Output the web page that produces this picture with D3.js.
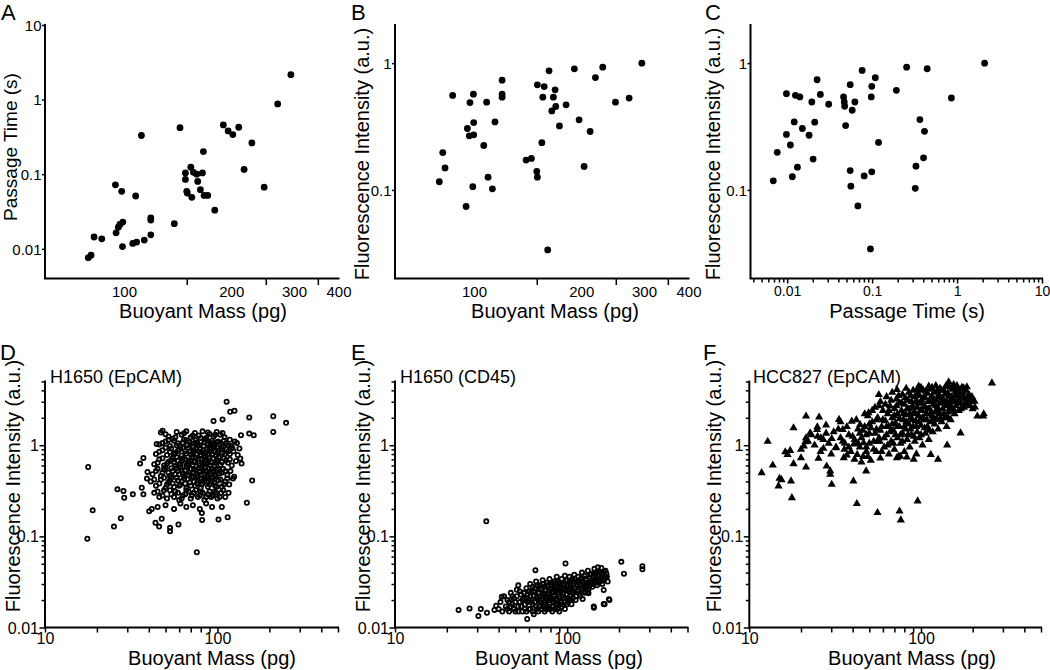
<!DOCTYPE html>
<html><head><meta charset="utf-8">
<script src="https://cdn.jsdelivr.net/npm/d3@7"></script>
<style>
body{margin:0;background:#fff}
svg{display:block}
text{font-family:"Liberation Sans",Arial,sans-serif;fill:#000}
</style>
</head><body>
<svg id="c" width="1050" height="670"></svg>
<script>
// ---------------- DATA ----------------
// Panel A: buoyant mass (pg) vs passage time (s)
const massA = [79.4,80.8,82.4,86.6,94.6,98.5,95.0,96.4,97.4,99.2,99.0,105.8,108.5,107.8,111.9,114.0,118.9,118.9,118.9,138.4,143.6,148.7,148.7,150,150.5,154,155,156.6,160,161,163.8,166,167,167.8,171.8,179.8,190,196,202,209.9,217.3,228.5,247.4,270,294];
const timeA = [0.0076,0.0082,0.0144,0.0136,0.072,0.059,0.0164,0.0195,0.0212,0.0228,0.0107,0.0118,0.0123,0.051,0.33,0.0131,0.0154,0.026,0.0243,0.0217,0.42,0.104,0.085,0.059,0.056,0.124,0.049,0.106,0.1,0.080,0.062,0.104,0.201,0.052,0.052,0.033,0.458,0.38,0.34,0.426,0.116,0.263,0.067,0.875,2.16];
// Panel B: buoyant mass (pg) vs fluorescence (a.u.)
const massB = [79.9,81.7,82.9,87.1,95.0,95.8,97.4,97.0,99.6,99.8,99.8,99.2,106.5,108.5,109.5,112.6,114.5,119.9,119.9,119.9,140,144.9,150,150.6,150.6,155,156,157.4,161,162.4,165.3,167,168.9,169.6,173.7,181.3,191.3,197.2,203.7,211.8,219.2,229.8,249.5,272.5,295.8];
const fluorB = [0.116,0.197,0.149,0.556,0.074,0.305,0.489,0.267,0.569,0.34,0.272,0.106,0.224,0.492,0.126,0.102,0.344,0.734,0.569,0.539,0.172,0.177,0.14,0.126,0.675,0.236,0.539,0.654,0.0336,0.87,0.42,0.539,0.616,0.455,0.32,0.469,0.902,0.357,0.153,0.289,0.77,0.93,0.492,0.53,1.0];
// Panel C: passage time (s) vs fluorescence (a.u.)
const timeC = [0.00686,0.00764,0.0098,0.0098,0.0109,0.0115,0.0121,0.0125,0.0132,0.0141,0.0151,0.0181,0.0195,0.0202,0.0211,0.0225,0.0246,0.0308,0.0461,0.047,0.0475,0.0488,0.0552,0.0552,0.0562,0.0583,0.0627,0.068,0.0763,0.0806,0.0956,0.0977,0.099,0.099,0.109,0.119,0.193,0.255,0.322,0.328,0.365,0.403,0.414,0.445,0.858,2.11];
const fluorC = [0.118,0.198,0.574,0.274,0.226,0.127,0.344,0.557,0.151,0.541,0.305,0.27,0.494,0.175,0.342,0.74,0.567,0.474,0.541,0.494,0.457,0.322,0.676,0.142,0.107,0.425,0.494,0.0748,0.876,0.129,0.0342,0.541,0.656,0.139,0.767,0.237,0.61,0.93,0.103,0.154,0.359,0.179,0.29,0.903,0.531,1.0];

// Panel D: H1650 (EpCAM) [mass pg, fluorescence a.u.]
const h1650EpcamPts = [
[17.8,0.577],[18.9,0.193],[17.6,0.094],[25.1,0.128],[26.3,0.328],[27.5,0.158],[28.5,0.314],[28.8,0.265],[32.3,0.289],[35.6,0.628],[37.2,0.726],[36.4,0.342],[37.2,0.289],[39.3,0.509],[39,0.43],[40.2,0.189],[41.6,0.2],[43.7,0.141],[44.4,1.03],[45.9,0.128],[47.5,0.156],[48.1,1.44],[53.1,0.124],[53.1,0.114],[59.4,0.135],[75.9,0.067],[81.2,0.18],[81.5,0.151],[101.4,0.153],[106,0.21],[114.6,0.162],[113,3.0],[118.5,2.33],[125.6,2.39],[94.9,1.84],[107,1.92],[129.6,1.06],[136.9,1.29],[134.1,0.919],[152.9,2.02],[152.9,1.34],[148,0.234],[159,0.41],[162.3,1.29],[210.6,2.08],[210.6,1.40],[250,1.76],[135.6,0.713],[138,0.628],
[47,1.38],[52,1.25],[55,1.18],[58,1.4],[62,1.3],[66,1.42],[70,1.22],[74,1.36],[78,1.28],[82,1.42],[86,1.2],[90,1.33],[95,1.25],[99,1.4],[104,1.3],[110,1.22],[118,1.15],
[46,1.02],[50,1.1],[53,0.98],[56,1.12],[59,1.05],[61,0.96],[64,1.15],[67,1.0],[69,1.08],[72,0.97],[75,1.14],[77,1.02],[80,1.1],[83,0.98],[85,1.16],[88,1.04],[91,0.99],[93,1.12],[97,1.03],[101,1.1],[106,0.97],[112,1.05],[120,0.98],[126,1.1],
[44,0.8],[48,0.88],[51,0.78],[54,0.92],[57,0.82],[60,0.9],[62,0.77],[65,0.86],[68,0.93],[70,0.79],[73,0.88],[76,0.8],[79,0.92],[81,0.84],[84,0.77],[87,0.9],[89,0.8],[92,0.86],[95,0.93],[98,0.78],[102,0.88],[107,0.82],[113,0.9],[118,0.8],[124,0.86],[131,0.78],
[43,0.62],[46,0.7],[49,0.6],[52,0.66],[55,0.73],[57,0.6],[59,0.68],[61,0.63],[63,0.72],[66,0.6],[68,0.67],[71,0.74],[72,0.61],[74,0.66],[77,0.7],[79,0.6],[82,0.65],[84,0.73],[86,0.62],[89,0.68],[91,0.6],[94,0.71],[97,0.64],[100,0.69],[104,0.61],[109,0.72],[115,0.64],[121,0.6],[128,0.67],
[42,0.48],[45,0.55],[48,0.5],[50,0.57],[53,0.46],[55,0.52],[58,0.56],[60,0.48],[62,0.53],[64,0.46],[67,0.57],[69,0.5],[71,0.46],[73,0.54],[76,0.49],[78,0.56],[80,0.47],[83,0.52],[85,0.57],[87,0.46],[90,0.51],[93,0.55],[96,0.47],[99,0.53],[103,0.49],[108,0.55],[114,0.47],[119,0.52],[125,0.45],
[41,0.4],[44,0.36],[47,0.42],[50,0.34],[52,0.39],[54,0.44],[56,0.35],[59,0.41],[61,0.37],[64,0.43],[66,0.34],[69,0.39],[72,0.44],[74,0.36],[77,0.41],[80,0.34],[82,0.38],[85,0.43],[88,0.35],[91,0.4],[94,0.44],[97,0.36],[101,0.41],[106,0.35],[111,0.4],[117,0.37],[123,0.43],
[43,0.3],[46,0.27],[49,0.32],[51,0.26],[54,0.29],[57,0.31],[60,0.25],[63,0.28],[66,0.32],[70,0.26],[73,0.3],[77,0.27],[80,0.31],[84,0.25],[88,0.29],[92,0.27],[96,0.31],[100,0.26],[105,0.3],[111,0.27],[116,0.3],
[45,0.21],[50,0.22],[56,0.2],[61,0.23],[66,0.21],[72,0.22],[79,0.2],[86,0.23],[93,0.21],
[50,1.32],[57,1.22],[64,1.35],[72,1.28],[80,1.2],[88,1.38],[97,1.3],[107,1.36],
[48,1.06],[52,1.14],[58,1.0],[63,1.07],[66,1.13],[71,1.04],[76,1.08],[79,0.99],[84,1.07],[87,1.12],[92,1.06],[96,0.98],[99,1.08],[103,1.02],[109,1.12],[115,1.0],
[46,0.85],[50,0.94],[53,0.84],[56,0.79],[59,0.87],[63,0.94],[66,0.81],[69,0.86],[72,0.83],[75,0.91],[78,0.85],[80,0.79],[83,0.88],[86,0.83],[90,0.92],[93,0.8],[96,0.87],[100,0.82],[105,0.91],[110,0.79],[116,0.86],[122,0.93],
[45,0.64],[48,0.72],[51,0.63],[54,0.69],[56,0.64],[58,0.74],[60,0.61],[62,0.67],[65,0.7],[67,0.63],[70,0.69],[73,0.65],[75,0.73],[78,0.63],[81,0.7],[83,0.61],[85,0.68],[88,0.64],[90,0.72],[93,0.65],[96,0.6],[99,0.66],[102,0.73],[106,0.65],[112,0.68],[118,0.7],
[44,0.52],[47,0.46],[49,0.54],[52,0.5],[54,0.56],[57,0.48],[59,0.52],[61,0.57],[63,0.49],[65,0.53],[68,0.47],[70,0.55],[72,0.5],[75,0.53],[77,0.46],[79,0.51],[81,0.55],[84,0.48],[86,0.52],[89,0.56],[92,0.49],[95,0.52],[98,0.46],[101,0.55],[106,0.5],[111,0.52],
[43,0.42],[46,0.38],[49,0.44],[51,0.37],[53,0.41],[55,0.38],[58,0.44],[60,0.36],[62,0.4],[65,0.38],[67,0.42],[70,0.36],[73,0.4],[76,0.38],[79,0.43],[81,0.37],[84,0.4],[87,0.44],[90,0.37],[93,0.41],[96,0.39],[99,0.35],[104,0.42],[109,0.37],[114,0.43],
[45,0.31],[48,0.28],[53,0.32],[56,0.27],[59,0.3],[62,0.26],[65,0.29],[68,0.31],[71,0.28],[75,0.32],[79,0.28],[82,0.3],[86,0.27],[90,0.31],[94,0.28],[98,0.3],[103,0.27],[108,0.32]
];

// Panel E: H1650 (CD45) [mass pg, fluorescence a.u.]
const h1650Cd45Pts = [
[23.4,0.0156],[27.1,0.0162],[30.5,0.0134],[31.5,0.016],[34.2,0.0145],[33.9,0.146],[37.8,0.0156],[38.7,0.0173],[41.7,0.0218],[65.4,0.0426],[97.8,0.0503],[150.8,0.0457],[206.3,0.0525],[213.8,0.039],[273.5,0.047],[273.5,0.0436],[174.9,0.0204],[163,0.0181],[142.7,0.017],[131.6,0.0244],[163,0.0258],[58.6,0.0124],
[40,0.016],[41,0.019],[42,0.015],[43,0.022],[44,0.017],[45,0.02],[46,0.015],[47,0.024],[48,0.018],
[49,0.021],[50,0.015],[51,0.026],[52,0.017],[52,0.029],[53,0.019],[54,0.023],[55,0.015],[56,0.021],
[57,0.018],[58,0.027],[58,0.015],[59,0.023],[60,0.02],[61,0.03],[61,0.016],[62,0.025],[63,0.018],[64,0.022],[64,0.014],
[65,0.027],[66,0.017],[66,0.032],[67,0.021],[68,0.024],[68,0.015],[69,0.029],[70,0.019],[71,0.026],[71,0.016],[72,0.022],[72,0.033],
[73,0.018],[74,0.028],[74,0.015],[75,0.023],[76,0.031],[77,0.02],[77,0.016],[78,0.026],[79,0.034],[79,0.018],[80,0.022],[81,0.029],[82,0.015],[82,0.024],
[83,0.019],[84,0.032],[85,0.026],[85,0.016],[86,0.021],[87,0.036],[87,0.028],[88,0.018],[89,0.024],[90,0.031],[90,0.015],[91,0.021],[92,0.027],
[93,0.034],[94,0.018],[95,0.024],[96,0.03],[97,0.016],[97,0.037],[98,0.021],[99,0.027],[100,0.033],[101,0.019],[102,0.025],[103,0.036],[104,0.022],
[105,0.029],[106,0.018],[107,0.034],[108,0.024],[110,0.038],[111,0.027],[112,0.02],[113,0.032],[115,0.025],[116,0.036],[118,0.029],[119,0.022],[120,0.034],
[122,0.04],[123,0.027],[124,0.031],[126,0.037],[127,0.024],[129,0.033],[130,0.029],[132,0.042],[133,0.026],[135,0.035],[137,0.031],[138,0.039],[140,0.028],
[142,0.036],[144,0.044],[145,0.032],[147,0.04],[149,0.029],[150,0.037],[152,0.033],[155,0.041],[157,0.035],[158,0.045],[160,0.03],[162,0.038],[165,0.034],[167,0.042],[170,0.036],[172,0.032],
[123,0.0205],[133,0.0237],[143,0.0165],[165,0.018],[176,0.02],
[45,0.016],[46,0.019],[47,0.017],[48,0.022],[49,0.016],[50,0.019],[51,0.022],[52,0.015],[53,0.025],[54,0.017],[55,0.02],[56,0.024],[57,0.016],[58,0.021],[59,0.019],[60,0.025],[60,0.016],
[61,0.022],[62,0.019],[63,0.028],[63,0.015],[64,0.025],[65,0.019],[66,0.021],[67,0.029],[67,0.016],[68,0.02],[69,0.024],[69,0.017],[70,0.027],[71,0.02],[72,0.017],[73,0.03],[73,0.023],[74,0.019],[75,0.026],[75,0.016],
[76,0.021],[77,0.029],[78,0.017],[78,0.023],[79,0.021],[80,0.027],[80,0.016],[81,0.02],[82,0.031],[83,0.025],[83,0.017],[84,0.022],[85,0.029],[86,0.018],[86,0.025],[87,0.02],[88,0.032],[88,0.016],[89,0.027],[90,0.022],[90,0.018],
[91,0.03],[92,0.019],[92,0.025],[93,0.017],[94,0.029],[95,0.021],[96,0.026],[97,0.019],[98,0.033],[99,0.023],[100,0.018],[100,0.029],[101,0.026],[102,0.021],[103,0.031],[104,0.027],[105,0.02],[106,0.032],[107,0.026],[108,0.021],[109,0.03],[110,0.025],
[111,0.034],[113,0.022],[114,0.029],[116,0.026],[117,0.032],[118,0.023],[120,0.03],[121,0.026],[123,0.035],[125,0.029],[126,0.025],[128,0.034],[129,0.028],[131,0.031],[134,0.028],[136,0.038],[139,0.033],
[141,0.03],[143,0.039],[146,0.034],[148,0.031],[151,0.041],[153,0.036],[156,0.032],[159,0.039],[161,0.034],[163,0.041],[166,0.036],[169,0.039]
];

// Panel F: HCC827 (EpCAM) [mass pg, fluorescence a.u.]
const hcc827EpcamPts = [
[11.8,0.498],[12.8,1.1],[13.7,0.604],[14.8,0.356],[15,0.432],[15.4,0.417],[16.2,0.845],[16.7,0.79],[17.3,0.874],[17.5,0.404],[17.7,0.265],[18.1,1.55],[18.1,0.625],[20,0.726],[20.8,0.975],[21.2,1.09],[21.4,1.2],[21.4,2.08],[21.4,0.575],[22.6,1.36],[24.9,1.59],[24.8,1.48],[25.5,2.03],[25.3,0.715],[26.1,1.2],[27,0.92],[28,1.66],[28.2,0.589],[29.6,0.52],[29.6,0.477],[30.2,0.372],[30.2,1.18],[31.9,0.935],[33.3,1.91],[34,1.8],[35,1.48],[35.8,0.897],[35.5,0.727],[37,0.777],[39.5,1.83],[40.4,0.404],[40.7,1.03],[42.3,0.228],[42.5,0.79],[44.2,1.68],[46.3,1.06],[47.9,0.52],[49.5,2.26],[55.8,0.182],[56.8,3.59],[57.5,1.1],[76.3,0.151],[75,0.189],[95.6,0.244],[72.4,4.06],[97,4.43],[99,4.06],[111,4.43],[145,4.94],[155,4.61],[177,4.24],[185,4.35],[173,3.35],[194,3.16],[205,3.03],[206,2.61],[213,2.08],[230,2.08],[232,2.2],[259,4.81],[170,1.36],[142,1.0],[114,0.79],[125.6,0.697],[90.7,0.697],[82.7,0.739],[75.6,0.758],[72.4,0.727],
[38,1.3],[41,1.15],[43,1.5],[36,1.05],[39,0.85],[34,1.2],[32,0.95],[27,1.15],[24,1.0],[23,1.3],[31,1.4],[44,0.95],[42,1.9],[46,1.45],[48,0.85],[50,1.7],
[45,1.2],[46,0.75],[47,1.6],[48,0.95],[49,2.1],[50,1.35],[51,0.68],[52,1.8],[53,1.1],[54,2.6],[55,0.85],[55,1.5],
[56,2.0],[57,1.2],[58,0.72],[58,3.0],[59,1.6],[60,2.4],[61,0.95],[62,1.85],[63,1.3],[63,3.4],[64,2.2],[65,0.8],[65,1.6],
[66,2.7],[67,1.1],[68,2.0],[68,3.8],[69,1.45],[70,0.9],[70,2.5],[71,1.75],[72,3.2],[73,1.2],[73,2.2],[74,0.75],[75,1.6],[75,2.9],
[76,1.05],[77,2.4],[78,3.6],[78,1.35],[79,1.9],[80,0.85],[80,2.8],[81,1.5],[82,4.2],[82,2.15],[83,1.15],[84,3.1],[85,1.7],[85,2.5],
[86,0.95],[87,3.5],[87,2.0],[88,1.3],[89,2.7],[90,1.6],[90,4.0],[91,2.3],[92,1.1],[93,3.0],[93,1.85],[94,0.8],[95,2.6],[95,1.4],
[96,3.7],[97,2.1],[98,1.2],[99,2.9],[100,1.65],[100,4.3],[101,2.4],[102,1.0],[103,3.3],[104,1.9],[105,2.7],[106,1.35],[107,3.9],[108,2.2],[109,1.6],[110,3.0],
[111,1.15],[112,2.5],[113,4.1],[114,1.8],[115,3.4],[116,2.1],[117,1.4],[118,2.8],[119,3.8],[120,1.7],[121,2.3],[122,4.5],[123,3.1],[124,1.95],[125,2.6],[126,1.5],[127,3.6],[128,2.2],[129,4.2],[130,2.9],
[132,1.8],[133,3.3],[134,2.5],[136,4.0],[137,2.0],[138,3.0],[140,2.7],[141,1.6],[143,3.7],[144,2.3],[146,4.4],[147,2.9],[149,1.9],[150,3.4],[152,2.5],[154,4.1],[155,3.0],[157,2.2],[158,3.8],[160,2.7],
[162,4.5],[164,3.2],[166,2.4],[168,3.9],[170,2.9],[173,4.3],[175,3.5],[178,2.6],[180,3.2],[183,4.0],[186,2.8],[190,3.6],[195,3.0],[200,2.5],
[20,0.9],[22,1.1],[25,1.25],[26,0.85],[28,1.35],[29,1.05],[30,0.8],[33,1.5],[35,1.1],[37,1.6],[38,0.95],[40,1.25],[41,0.7],[43,1.05],[44,1.35],[45,0.65],
[47,2.2],[48,1.3],[49,0.75],[50,1.05],[51,1.55],[52,2.4],[53,0.9],[54,1.35],[55,1.9],[56,1.1],[57,2.7],[58,1.45],[59,0.85],[60,1.9],[61,1.2],[62,2.8],[63,1.6],[64,1.0],[65,2.4],[66,1.4],[67,3.1],[68,1.7],[69,1.05],[70,2.1],[71,1.3],[72,2.7],[73,1.6],[74,3.5],[75,1.95],[76,1.3],[77,2.9],[78,1.1],[79,2.2],[80,1.6],[81,3.3],[82,1.8],[83,2.5],[84,1.3],[85,3.8],[86,2.2],[87,1.5],[88,3.0],[89,1.9],[90,2.6],[91,1.25],[92,3.4],[93,2.2],[94,1.6],[95,4.1],[96,2.9],[97,1.8],[98,3.5],[99,2.4],[100,1.3],[101,3.1],[102,2.0],[103,4.0],[104,2.6],[105,1.55],[106,3.3],[107,2.2],[108,1.9],[109,3.7],[110,2.5],[112,1.45],[113,3.0],[115,2.3],[116,4.3],[118,2.0],[119,3.2],[121,1.9],[122,2.7],[124,3.9],[126,2.4],[128,3.4],[130,1.95],[132,4.0],[134,2.9],[136,2.2],[138,3.6],[140,4.5],[142,3.0],[144,2.0],[146,3.5],[148,2.6],[151,4.2],[153,3.2],[156,2.4],[159,3.5],[161,4.1],[163,2.9],[167,3.4],[171,2.5],[176,3.8],[181,2.9],[188,3.3],[193,2.7],[198,3.4]
];

// Tick labels
const massTicksTop = [100,200,300,400];
const massMinorTop = [150,250,350];
const timeTicks = [0.01,0.1,1,10];
const timeYTicks = [0.01,0.1,1,10];
const fluorTicksTop = [0.1,1];
const massTicksBottom = [10,100];
const fluorTicksBottom = [0.01,0.1,1];

// ---------------- DRAWING ----------------
const svg = d3.select("#c");
const isPow10 = v => Math.abs(Math.log10(v) - Math.round(Math.log10(v))) < 1e-9;

function drawPanel(p) {
  const g = svg.append("g");
  const x = p.x, y = p.y;
  const x0 = x.range()[0], x1 = x.range()[1];
  const yb = y.range()[0], yt = y.range()[1];

  if (p.xMinor.length) {
    const gm = g.append("g").attr("transform", `translate(0,${yb})`)
      .call(d3.axisBottom(x).tickValues(p.xMinor).tickSize(p.xMinorLen).tickSizeOuter(0).tickFormat(""));
    gm.select(".domain").remove();
    gm.selectAll(".tick line").attr("stroke-width", 1.5);
  }
  const gx = g.append("g").attr("transform", `translate(0,${yb})`)
    .call(d3.axisBottom(x).tickValues(p.xMajor).tickSize(p.xMajorLen).tickSizeOuter(0).tickFormat(d => String(d)));
  gx.select(".domain").remove();
  gx.selectAll(".tick line").attr("stroke-width", 1.5);
  gx.selectAll("text").attr("dy", null).attr("y", p.xLabelDy)
    .style("font-size", (p.xTickFont || p.tickFont) + "px").attr("fill", "#000");

  if (p.yMinor.length) {
    const gym = g.append("g").attr("transform", `translate(${x0},0)`)
      .call(d3.axisLeft(y).tickValues(p.yMinor).tickSize(p.yMinorLen).tickSizeOuter(0).tickFormat(""));
    gym.select(".domain").remove();
    gym.selectAll(".tick line").attr("stroke-width", 1.5);
  }
  const gy = g.append("g").attr("transform", `translate(${x0},0)`)
    .call(d3.axisLeft(y).tickValues(p.yMajor).tickSize(p.yMajorLen).tickPadding(p.yLabelPad).tickSizeOuter(0).tickFormat(d => String(d)));
  gy.select(".domain").remove();
  gy.selectAll(".tick line").attr("stroke-width", 1.5);
  gy.selectAll("text").style("font-size", p.tickFont + "px").attr("fill", "#000").attr("dy", "0.35em");

  g.append("path").attr("d", `M${x0},${yt}V${yb}H${x1}`)
    .attr("fill", "none").attr("stroke", "#000").attr("stroke-width", 2).attr("stroke-linecap", "square");

  g.append("text").attr("x", p.xTitlePos[0]).attr("y", p.xTitlePos[1])
    .attr("text-anchor", "middle").style("font-size", "20px").text(p.xTitle);
  g.append("text").attr("transform", `translate(${p.yTitlePos[0]},${p.yTitlePos[1]}) rotate(-90)`)
    .attr("text-anchor", "middle").style("font-size", (p.yTitleSize || 20) + "px").text(p.yTitle);
  g.append("text").attr("x", p.letterPos[0]).attr("y", p.letterPos[1])
    .style("font-size", "22px").text(p.letter);
  if (p.subtitle) {
    g.append("text").attr("x", p.subtitlePos[0]).attr("y", p.subtitlePos[1])
      .style("font-size", "18px").text(p.subtitle);
  }

  const pts = g.append("g");
  if (p.marker === "dot") {
    pts.selectAll("circle").data(p.points).join("circle")
      .attr("cx", d => x(d[0])).attr("cy", d => y(d[1])).attr("r", 3.4).attr("fill", "#000");
  } else if (p.marker === "ring") {
    pts.selectAll("circle").data(p.points).join("circle")
      .attr("cx", d => x(d[0])).attr("cy", d => y(d[1])).attr("r", 2.1)
      .attr("fill", "none").attr("stroke", "#000").attr("stroke-width", 1.8);
  } else {
    const tri = d3.symbol(d3.symbolTriangle, 29);
    pts.selectAll("path").data(p.points).join("path")
      .attr("transform", d => `translate(${x(d[0])},${y(d[1])})`).attr("d", tri).attr("fill", "#000");
  }
}

const xA = d3.scaleLog().domain([60, 400]).range([45, 338.5]);
const yA = d3.scaleLog().domain([0.004, 10]).range([278.5, 25]);
const xB = d3.scaleLog().domain([60, 400]).range([395, 688.5]);
const yB = d3.scaleLog().domain([0.02, 2]).range([278.5, 25]);
const xC = d3.scaleLog().domain([0.0037, 10]).range([750.5, 1042]);
const yC = d3.scaleLog().domain([0.02, 2]).range([278.5, 25]);
const yBot = [627.5, 381.5];
const xD = d3.scaleLog().domain([10, 500]).range([45, 338]);
const xE = d3.scaleLog().domain([10, 500]).range([395, 687.5]);
const xF = d3.scaleLog().domain([10, 500]).range([749.3, 1041]);
const yD = d3.scaleLog().domain([0.01, 5]).range(yBot);
const yE = d3.scaleLog().domain([0.01, 5]).range(yBot);
const yF = d3.scaleLog().domain([0.01, 5]).range(yBot);

const topCommon = {tickFont: 15, xLabelDy: 18, yMajorLen: 3, yLabelPad: 0.5, yMinor: [], yMinorLen: 0};
const botCommon = {tickFont: 16, xLabelDy: 16, xMajorLen: 5, xMinorLen: 5, yMajorLen: 5.5, yMinorLen: 3.5, yLabelPad: 0.5,
  xTitle: "Buoyant Mass (pg)", yTitle: "Fluorescence Intensity (a.u.)"};

drawPanel(Object.assign({}, topCommon, {
  letter: "A", letterPos: [1, 20], x: xA, y: yA,
  xMajor: massTicksTop, xMajorLen: 0, xMinor: massMinorTop, xMinorLen: 6.5,
  yMajor: timeYTicks,
  xTitle: "Buoyant Mass (pg)", xTitlePos: [203, 318], yTitle: "Passage Time (s)", yTitlePos: [17, 147], yTitleSize: 19,
  points: massA.map((m, i) => [m, timeA[i]]), marker: "dot"}));

drawPanel(Object.assign({}, topCommon, {
  letter: "B", letterPos: [351, 20], x: xB, y: yB,
  xMajor: massTicksTop, xMajorLen: 0, xMinor: massMinorTop, xMinorLen: 6.5,
  yMajor: fluorTicksTop,
  xTitle: "Buoyant Mass (pg)", xTitlePos: [555, 318], yTitle: "Fluorescence Intensity (a.u.)", yTitlePos: [369, 154],
  points: massB.map((m, i) => [m, fluorB[i]]), marker: "dot"}));

drawPanel(Object.assign({}, topCommon, {
  letter: "C", letterPos: [705, 20], x: xC, y: yC,
  xMajor: timeTicks, xMajorLen: 5, xMinor: xC.ticks().filter(v => !isPow10(v)), xMinorLen: 4,
  yMajor: fluorTicksTop, xLabelDy: 17, xTickFont: 14,
  xTitle: "Passage Time (s)", xTitlePos: [907, 318], yTitle: "Fluorescence Intensity (a.u.)", yTitlePos: [720, 154],
  points: timeC.map((t, i) => [t, fluorC[i]]), marker: "dot"}));

drawPanel(Object.assign({}, botCommon, {
  letter: "D", letterPos: [0, 360], x: xD, y: yD,
  xMajor: massTicksBottom, xMinor: xD.ticks().filter(v => !isPow10(v)),
  yMajor: fluorTicksBottom, yMinor: yD.ticks().filter(v => !isPow10(v)),
  xTitlePos: [212, 665], yTitlePos: [20, 486],
  subtitle: "H1650 (EpCAM)", subtitlePos: [50, 383],
  points: h1650EpcamPts, marker: "ring"}));

drawPanel(Object.assign({}, botCommon, {
  letter: "E", letterPos: [351, 360], x: xE, y: yE,
  xMajor: massTicksBottom, xMinor: xE.ticks().filter(v => !isPow10(v)),
  yMajor: fluorTicksBottom, yMinor: yE.ticks().filter(v => !isPow10(v)),
  xTitlePos: [559, 665], yTitlePos: [370, 486],
  subtitle: "H1650 (CD45)", subtitlePos: [400, 383],
  points: h1650Cd45Pts, marker: "ring"}));

drawPanel(Object.assign({}, botCommon, {
  letter: "F", letterPos: [703, 360], x: xF, y: yF,
  xMajor: massTicksBottom, xMinor: xF.ticks().filter(v => !isPow10(v)),
  yMajor: fluorTicksBottom, yMinor: yF.ticks().filter(v => !isPow10(v)),
  xTitlePos: [912, 665], yTitlePos: [721, 486],
  subtitle: "HCC827 (EpCAM)", subtitlePos: [753, 383],
  points: hcc827EpcamPts, marker: "tri"}));
</script>
</body></html>
